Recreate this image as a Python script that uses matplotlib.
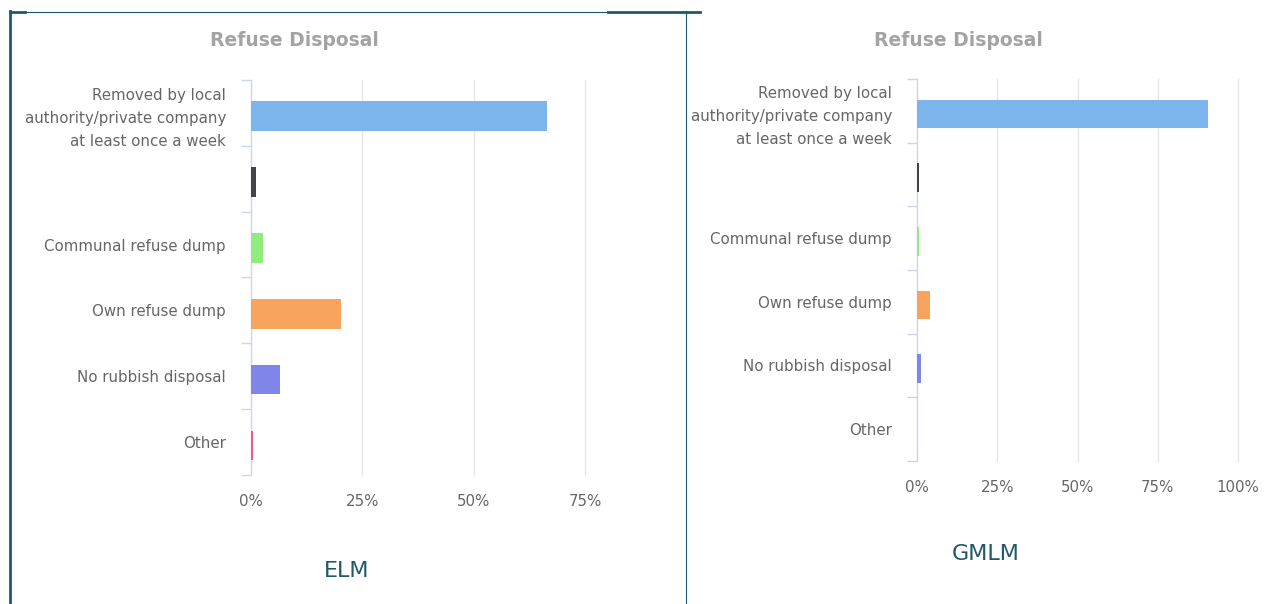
import matplotlib
matplotlib.use("Agg")
import matplotlib.pyplot as plt
from matplotlib.lines import Line2D
from matplotlib.ticker import FixedLocator

# Data (share of households, %)
categories = [
    "Removed by local\nauthority/private company\nat least once a week",
    "",
    "Communal refuse dump",
    "Own refuse dump",
    "No rubbish disposal",
    "Other",
]
elm_values = [66.5, 1.2, 2.8, 20.3, 6.6, 0.5]
gmlm_values = [90.8, 0.6, 0.5, 4.2, 1.1, 0.0]
bar_colors = ["#7cb5ec", "#434348", "#90ed7d", "#f7a35c", "#8085e9", "#f15c80"]
elm_ticks = [0, 25, 50, 75]
gmlm_ticks = [0, 25, 50, 75, 100]

W, H = 1285, 604
FRAME = "#22596a"
LABEL = "#666666"
AXIS = "#ccd6eb"
GRID = "#e6e6e6"

plt.rcParams["font.family"] = "DejaVu Sans"
fig = plt.figure(figsize=(W / 100, H / 100), dpi=100)


def px_axes(x0, y0, x1, y1):
    """Axes from pixel box (left, top, right, bottom)."""
    return fig.add_axes([x0 / W, 1 - y1 / H, (x1 - x0) / W, (y1 - y0) / H])


def draw_panel(ax, values, ticks, xmax):
    n = len(categories)
    ys = list(range(n))
    ax.barh([y + 0.05 for y in ys], values, height=0.45, color=bar_colors,
            edgecolor="none", zorder=5)
    ax.set_xlim(0, xmax)
    ax.set_ylim(n - 0.5, -0.5)
    for t in ticks[1:]:
        ax.axvline(t, color=GRID, lw=1.0, zorder=1, clip_on=False)
    for s in ["top", "right", "bottom"]:
        ax.spines[s].set_visible(False)
    ax.spines["left"].set_color(AXIS)
    ax.spines["left"].set_linewidth(1.0)
    ax.spines["left"].set_zorder(4)
    ax.set_yticks(ys)
    ax.set_yticklabels(categories, fontsize=10.8, color=LABEL, linespacing=1.65)
    ax.tick_params(axis="y", which="major", length=0, pad=18)
    ax.yaxis.set_minor_locator(FixedLocator([i - 0.5 for i in range(n + 1)]))
    ax.tick_params(axis="y", which="minor", length=7.2, width=1.0, color=AXIS)
    ax.set_xticks(ticks)
    ax.set_xticklabels([f"{t}%" for t in ticks], fontsize=10.8, color=LABEL)
    ax.tick_params(axis="x", length=0, pad=14)


ax1 = px_axes(251, 80, 585, 475)
draw_panel(ax1, elm_values, elm_ticks, 75)
ax2 = px_axes(917, 79, 1238, 461)
draw_panel(ax2, gmlm_values, gmlm_ticks, 100)

# Titles and panel names
fig.text(294 / W, 1 - 41 / H, "Refuse Disposal", ha="center", va="center",
         fontsize=13.5, fontweight="bold", color="#a3a3a3")
fig.text(958 / W, 1 - 40 / H, "Refuse Disposal", ha="center", va="center",
         fontsize=13.5, fontweight="bold", color="#a3a3a3")
fig.text(347 / W, 1 - 571 / H, "ELM", ha="center", va="center",
         fontsize=16, color=FRAME)
fig.text(986 / W, 1 - 554 / H, "GMLM", ha="center", va="center",
         fontsize=16, color=FRAME)


def fline(xs, ys, lw):
    fig.add_artist(Line2D([x / W for x in xs], [1 - y / H for y in ys],
                          color=FRAME, lw=lw, transform=fig.transFigure))


# Frame pieces
fline([10, 10], [11, 604], 2.0)
fline([10, 700], [12, 12], 0.8)
fline([10, 25], [12, 12], 2.0)
fline([608, 700], [12, 12], 2.0)
fline([686, 686], [12, 604], 0.8)

fig.savefig("out.png", dpi=100, facecolor="white")
